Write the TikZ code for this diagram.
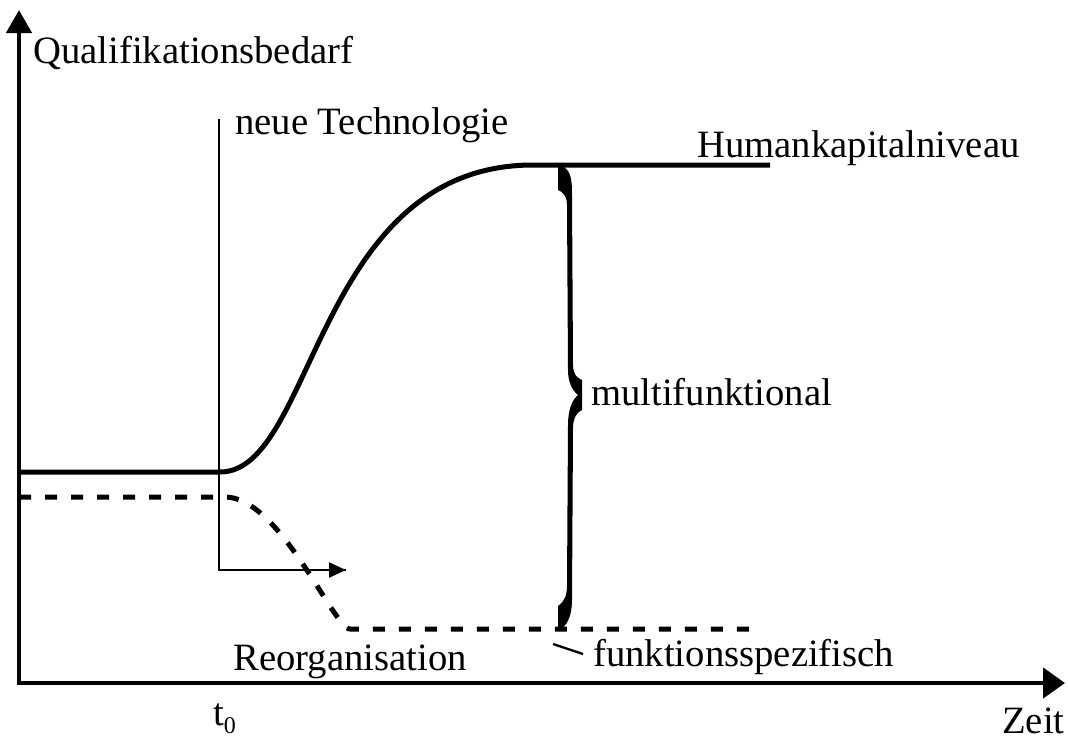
\documentclass[tikz,border=0pt]{standalone}
\usepackage{fontspec}
\setmainfont{Liberation Serif}
\usetikzlibrary{arrows.meta}
\begin{document}
\begin{tikzpicture}[x=1pt,y=-1pt,
  lbl/.style={anchor=base west,inner sep=0pt,font=\fontsize{38.7}{40}\selectfont},
  axis/.style={line width=4.5pt,-{Triangle[length=23pt,width=25pt]}},
  thin/.style={line width=2.3pt},
  level/.style={line width=5pt,line cap=butt,line join=round},
  lowlevel/.style={line width=5pt,dash pattern=on 12pt off 14pt},
  bracefill/.style={fill=black}]
\useasboundingbox (0,0) rectangle (1068,742);
% axes
\coordinate (O) at (19,683);
\coordinate (ytip) at (19,10);
\coordinate (xtip) at (1065,683);
\draw[axis] (O) -- (ytip);
\draw[axis,-{Triangle[length=22pt,width=30pt]}] ([xshift=-2.25pt]O) -- (xtip);
% t0 vertical line and small arrow
\coordinate (vtop) at (219,119);
\coordinate (vbot) at (219,570);
\coordinate (atip) at (346,570);
\draw[thin,line join=miter] (vtop) -- (vbot) -- (atip);
\draw[thin,-{Triangle[length=17pt,width=15pt]}] (vbot) -- (atip);
% solid curve
\draw[level] (19,472) -- (220,472)
  .. controls (315,472) and (315,165) .. (533,165)
  -- (770,165);
% dashed curve
\draw[lowlevel] (19,497) -- (225,497)
  .. controls (280,497) and (334,629) .. (350,629)
  -- (760,629);
% brace
\fill[bracefill] (558,167) -- (564,167)
  .. controls (571,172) and (572,180) .. (572,195)
  -- (573,365) .. controls (573,374) and (577,378) .. (582,380)
  -- (582,410) .. controls (577,412) and (573,418) .. (573,428)
  -- (572,600) .. controls (572,614) and (568,624) .. (562,628)
  -- (558,628) -- (558,606)
  .. controls (565,601) and (567,595) .. (567,585)
  -- (568,425) .. controls (568,410) and (572,400) .. (578,395)
  .. controls (572,390) and (568,382) .. (568,370)
  -- (567,205) .. controls (567,198) and (565,193) .. (558,190) -- cycle;
% slash
\coordinate (s1) at (553,644);
\coordinate (s2) at (583,654);
\draw[thin] (s1) -- (s2);
% labels
\node[lbl] (ql) at (33,63) {Qualifikationsbedarf};
\node[lbl] (nt) at (235,134) {neue Technologie};
\node[lbl] (hk) at (697,157) {Humankapitalniveau};
\node[lbl] (mf) at (591,405) {multifunktional};
\node[lbl] (fs) at (593,666) {funktionsspezifisch};
\node[lbl] (ro) at (233,670) {Reorganisation};
\node[lbl] (t0) at (213,725) {t\raisebox{-8pt}{\fontsize{24}{24}\selectfont 0}};
\node[lbl] (zt) at (1002,733) {Zeit};
\end{tikzpicture}
\end{document}
